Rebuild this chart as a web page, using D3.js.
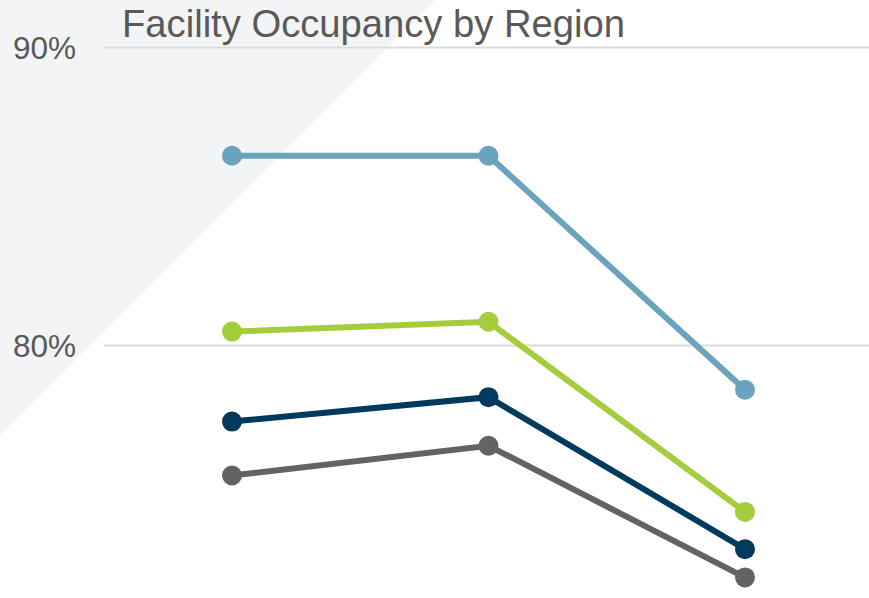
<!DOCTYPE html>
<html>
<head>
<meta charset="utf-8">
<script src="https://cdn.jsdelivr.net/npm/d3@7"></script>
<style>
  body { margin: 0; background: #fff; }
  svg { display: block; font-family: "Liberation Sans", Arial, sans-serif; }
</style>
</head>
<body>
<div id="chart"></div>
<script>
const width = 869,
  height = 598;

const periods = ["P1", "P2", "P3"];
const regions = ["North", "East", "South", "West"];
const colors = ["#6aa3bb", "#a3cd3b", "#003a5d", "#636366"];
const northValues = [86.35, 86.35, 78.5];
const eastValues = [80.45, 80.78, 74.4];
const southValues = [77.43, 78.25, 73.15];
const westValues = [75.62, 76.62, 72.2];
const yTicks = [80, 90];

const series = [northValues, eastValues, southValues, westValues];

const svg = d3
  .select("#chart")
  .append("svg")
  .attr("width", width)
  .attr("height", height);

// diagonal background band
svg
  .append("path")
  .attr("d", "M0,0 L435,0 L0,435 Z")
  .attr("fill", "#f3f4f6");

const x = d3.scalePoint().domain(periods).range([232, 745]);

const y = d3.scaleLinear().domain([70, 90]).range([643, 47]);

const yAxis = d3
  .axisLeft(y)
  .tickValues(yTicks)
  .tickFormat(d => d + "%")
  .tickSize(-(width - 104));

svg
  .append("g")
  .attr("transform", "translate(104,0)")
  .call(yAxis);

svg.selectAll(".domain").remove();
svg
  .selectAll(".tick line")
  .style("stroke", "#dcdcdc")
  .style("stroke-width", 2);
svg
  .selectAll(".tick text")
  .attr("x", -28)
  .attr("dy", "0.36em")
  .style("fill", "#595959")
  .style("font-size", "31.5px")
  .style("font-family", "Liberation Sans, Arial, sans-serif");

svg
  .append("text")
  .attr("x", 122)
  .attr("y", 37)
  .style("fill", "#595959")
  .style("font-size", "38.2px")
  .text("Facility Occupancy by Region");

const line = d3
  .line()
  .x((d, i) => x(periods[i]))
  .y(d => y(d));

series.forEach((vals, k) => {
  const g = svg.append("g").attr("class", "series-" + regions[k]);
  g.append("path")
    .datum(vals)
    .attr("fill", "none")
    .attr("stroke", colors[k])
    .attr("stroke-width", 6)
    .attr("d", line);
  g.selectAll("circle")
    .data(vals)
    .enter()
    .append("circle")
    .attr("cx", (d, i) => x(periods[i]))
    .attr("cy", d => y(d))
    .attr("r", 10)
    .attr("fill", colors[k]);
});
</script>
</body>
</html>
